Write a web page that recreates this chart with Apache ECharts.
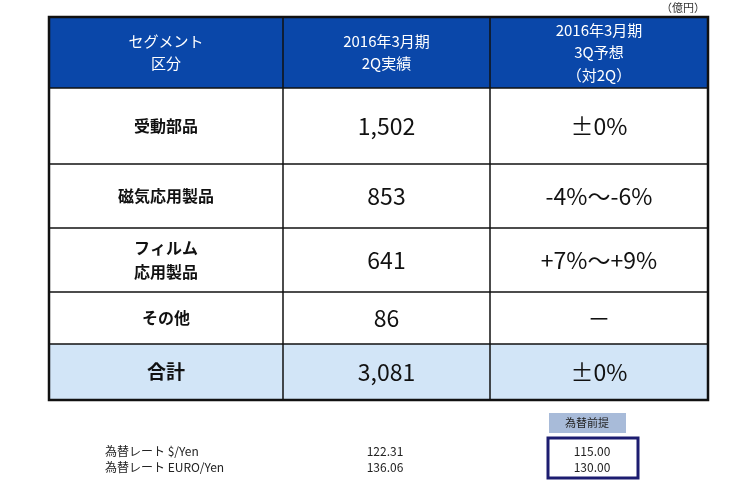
<!DOCTYPE html>
<html><head><meta charset="utf-8">
<script src="https://cdn.jsdelivr.net/npm/echarts@6/dist/echarts.min.js"></script>
<style>html,body{margin:0;padding:0;background:#fff}#c{width:750px;height:484px}</style>
</head><body><div id="c"></div>
<script>
var headers = ['セグメント\n区分', '2016年3月期\n2Q実績', '2016年3月期\n3Q予想\n（対2Q）'];
var segments = ['受動部品', '磁気応用製品', 'フィルム\n応用製品', 'その他', '合計'];
var actual2Q = ['1,502', '853', '641', '86', '3,081'];
var forecast3Q = ['±0%', '-4%～-6%', '+7%～+9%', '－', '±0%'];
var fxLabels = ['為替レート $/Yen', '為替レート EURO/Yen'];
var fxActual = ['122.31', '136.06'];
var fxAssumed = ['115.00', '130.00'];
var unitLabel = '（億円）';
var fxHeader = '為替前提';

var F = '"Noto Sans CJK JP", "Noto Sans", sans-serif';
var colX = [49, 283, 490, 708];
var rowY = [17, 88, 164, 228, 292, 344, 400];
var g = [];
// backgrounds
g.push({type:'rect', shape:{x:colX[0],y:rowY[0],width:colX[3]-colX[0],height:rowY[1]-rowY[0]}, style:{fill:'#0a47a9'}});
g.push({type:'rect', shape:{x:colX[0],y:rowY[5],width:colX[3]-colX[0],height:rowY[6]-rowY[5]}, style:{fill:'#d2e5f7'}});
// grid lines
for (var i=1;i<rowY.length-1;i++) g.push({type:'line', shape:{x1:colX[0],y1:rowY[i],x2:colX[3],y2:rowY[i]}, style:{stroke:'#111',lineWidth:1.5}});
for (var j=1;j<colX.length-1;j++) g.push({type:'line', shape:{x1:colX[j],y1:rowY[0],x2:colX[j],y2:rowY[6]}, style:{stroke:'#111',lineWidth:1.5}});
g.push({type:'rect', shape:{x:colX[0],y:rowY[0],width:colX[3]-colX[0],height:rowY[6]-rowY[0]}, style:{fill:'none',stroke:'#111',lineWidth:2.5}});
function cx(k){return (colX[k]+colX[k+1])/2;}
function txt(t,x,y,size,color,weight,align){
  g.push({type:'text', x:x, y:y, style:{text:t, font:(weight||'normal')+' '+size+'px '+F, fill:color||'#111', align:align||'center', verticalAlign:'middle', lineHeight:size*1.5}});
}
headers.forEach(function(h,k){ txt(h, cx(k), (rowY[0]+rowY[1])/2, 15, '#fff', 'normal'); });
segments.forEach(function(s,r){
  var y=(rowY[r+1]+rowY[r+2])/2, last=(r===segments.length-1);
  txt(s, cx(0), y, last?19:16, '#111', 'bold');
  txt(actual2Q[r], cx(1), y, 23, '#111', 'normal');
  txt(forecast3Q[r], cx(2), y, 23, '#111', 'normal');
});
txt(unitLabel, 705, 8, 11, '#333', 'normal', 'right');
// fx block
g.push({type:'rect', shape:{x:549,y:413,width:77,height:20}, style:{fill:'#a8bbd9'}});
txt(fxHeader, 587, 423, 11, '#222', 'normal');
g.push({type:'rect', shape:{x:548,y:438,width:90,height:40}, style:{fill:'none',stroke:'#1c1c70',lineWidth:3}});
fxLabels.forEach(function(l,r){
  var y=451+r*16;
  txt(l, 105, y, 12, '#222', 'normal', 'left');
  txt(fxActual[r], 385, y, 12, '#222', 'normal');
  txt(fxAssumed[r], 592, y, 12, '#222', 'normal');
});
var chart = echarts.init(document.getElementById('c'));
chart.setOption({animation:false, graphic:g});
</script></body></html>
